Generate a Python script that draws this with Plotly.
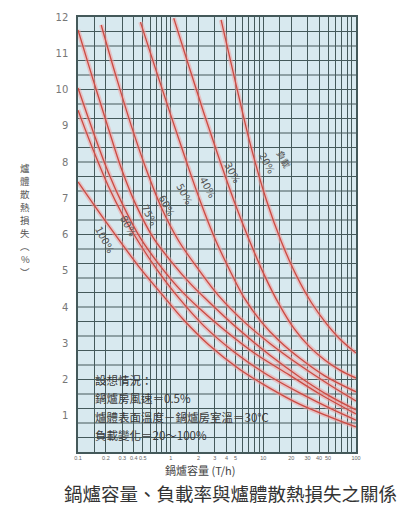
import math
import plotly.graph_objects as go

# ---- data (capacity T/h, heat loss %) ----
load_labels = ["100%", "80%", "75%", "60%", "50%", "40%", "30%", "20%"]

cap_100 = [0.1, 0.165, 0.272, 0.449, 0.798, 1.385, 2.59, 5.48, 11.6, 24.6, 52.1, 100]
loss_100 = [7.45, 6.65, 5.88, 5.13, 4.36, 3.64, 2.95, 2.29, 1.77, 1.32, 0.97, 0.69]

cap_80 = [0.1, 0.146, 0.212, 0.308, 0.472, 0.741, 1.222, 2.28, 4.84, 10.25, 24.6, 52.1, 100]
loss_80 = [9.43, 8.33, 7.34, 6.51, 5.71, 4.97, 4.25, 3.48, 2.76, 2.18, 1.63, 1.21, 0.88]

cap_75 = [0.1, 0.146, 0.212, 0.308, 0.472, 0.741, 1.222, 2.02, 3.77, 7.98, 19.2, 40.6, 100]
loss_75 = [10.04, 8.83, 7.72, 6.79, 5.90, 5.19, 4.52, 3.97, 3.37, 2.73, 2.12, 1.60, 1.05]

cap_60 = [0.1, 0.146, 0.212, 0.293, 0.427, 0.653, 1.025, 1.65, 2.59, 5.48, 11.6, 24.6, 52.1, 100]
loss_60 = [11.64, 10.26, 8.94, 7.83, 6.79, 5.90, 5.24, 4.63, 4.14, 3.37, 2.68, 2.07, 1.54, 1.16]

cap_50 = [0.178, 0.259, 0.377, 0.548, 0.798, 1.222, 2.02, 3.32, 6.22, 11.6, 24.6, 52.1, 100]
loss_50 = [11.78, 10.34, 8.99, 7.78, 6.73, 5.82, 5.02, 4.30, 3.59, 3.01, 2.40, 1.85, 1.41]

cap_40 = [0.472, 0.687, 1.0, 1.456, 2.12, 3.08, 4.49, 6.22, 9.51, 14.9, 24.6, 46.0, 100]
loss_40 = [11.86, 10.57, 9.30, 8.06, 6.87, 5.82, 4.94, 4.25, 3.59, 3.06, 2.59, 2.10, 1.66]

cap_30 = [1.08, 1.57, 2.28, 3.32, 4.84, 7.04, 10.25, 14.9, 21.7, 31.6, 46.0, 67.0, 100]
loss_30 = [11.97, 10.65, 9.35, 8.11, 6.92, 5.85, 4.88, 4.06, 3.39, 2.90, 2.54, 2.26, 2.04]

cap_20 = [3.5, 5.09, 7.41, 10.78, 15.7, 22.8, 33.2, 48.4, 68.7, 100]
loss_20 = [11.92, 10.12, 8.39, 6.95, 5.79, 4.86, 4.11, 3.53, 3.09, 2.73]

x_tickvals = [0.1, 0.2, 0.3, 0.4, 0.5, 1, 2, 3, 4, 5, 10, 20, 30, 40, 50, 100]
x_ticktext = ["0.1", "0.2", "0.3", "0.4", "0.5", "1", "2", "3", "4", "5",
              "10", "20", "30", "40", "50", "100"]
x_minor_vals = [0.15, 0.6, 0.7, 0.8, 0.9, 1.5, 6, 7, 8, 9, 15, 60, 70, 80, 90]
y_tickvals = list(range(1, 13))

y_title_chars = ["爐", "體", "散", "熱", "損", "失", "︵", "%", "︶"]

notes = ["設想情況：",
         "鍋爐房風速＝0.5%",
         "爐體表面溫度－鍋爐房室溫＝30℃",
         "負載變化＝20～100%"]

series = [(cap_100, loss_100), (cap_80, loss_80), (cap_75, loss_75),
          (cap_60, loss_60), (cap_50, loss_50), (cap_40, loss_40),
          (cap_30, loss_30), (cap_20, loss_20)]

# label anchor positions (layout)
label_pos = [(0.192, 5.85), (0.35, 6.23), (0.577, 6.54), (0.905, 6.81),
             (1.38, 7.12), (2.52, 7.31), (4.6, 7.70), (11.0, 7.97)]

CJK = "Noto Sans CJK TC"
GRID = "#44595a"
RED = "#cc4a42"
PLOT_BOTTOM = 452.0
PLOT_H = 435.0

fig = go.Figure()

for (xs, ys), name in zip(series, load_labels):
    fig.add_trace(go.Scatter(x=xs, y=ys, mode="lines", showlegend=False,
                             hoverinfo="skip",
                             line=dict(color="rgba(240,160,160,0.55)", width=4.5,
                                       shape="spline", smoothing=1.0)))
    fig.add_trace(go.Scatter(x=xs, y=ys, mode="lines", name=name, showlegend=False,
                             line=dict(color=RED, width=1.3,
                                       shape="spline", smoothing=1.0)))

# horizontal grid every 0.4
shapes = []
for k in range(1, 30):
    shapes.append(dict(type="line", xref="paper", x0=0, x1=1, yref="y",
                       y0=k * 0.4, y1=k * 0.4, layer="below",
                       line=dict(color=GRID, width=1.1)))

annotations = []
for (lx, ly), name in zip(label_pos, load_labels):
    annotations.append(dict(x=math.log10(lx), y=ly, xref="x", yref="y",
                            text=name, showarrow=False, textangle=62,
                            xanchor="center", yanchor="middle",
                            font=dict(family="DejaVu Sans", size=10, color="#555")))
annotations.append(dict(x=math.log10(16.5), y=8.06, xref="x", yref="y",
                        text="負載", showarrow=False, textangle=62,
                        xanchor="center", yanchor="middle",
                        font=dict(family=CJK, size=9, color="#555")))

note_y = [0.1655, 0.124, 0.080, 0.039]
for t, yy in zip(notes, note_y):
    annotations.append(dict(x=0.054, y=yy, xref="paper", yref="paper",
                            xanchor="left", yanchor="middle", text=t,
                            showarrow=False,
                            font=dict(family=CJK, size=11.5, color="#3a3a3a")))

annotations.append(dict(x=0.439, y=(PLOT_BOTTOM - 470) / PLOT_H, xref="paper", yref="paper",
                        xanchor="center", yanchor="middle",
                        text="鍋爐容量 (T/h)", showarrow=False,
                        font=dict(family=CJK, size=11, color="#444")))
annotations.append(dict(x=0.55, y=(PLOT_BOTTOM - 493) / PLOT_H, xref="paper", yref="paper",
                        xanchor="center", yanchor="middle",
                        text="鍋爐容量、負載率與爐體散熱損失之關係", showarrow=False,
                        font=dict(family=CJK, size=18.5, color="#333")))
# vertical (stacked) y-axis title
for i, ch in enumerate(y_title_chars):
    py = 168 + 13 * i          # pixel row of each character
    annotations.append(dict(x=-0.19, y=(PLOT_BOTTOM - py) / PLOT_H,
                            xref="paper", yref="paper",
                            xanchor="center", yanchor="middle",
                            text=ch, showarrow=False,
                            font=dict(family=CJK, size=9.5, color="#555")))

fig.update_layout(
    width=411, height=505,
    margin=dict(l=78, r=55, t=17, b=53),
    paper_bgcolor="white",
    plot_bgcolor="#d8e9ef",
    shapes=shapes,
    annotations=annotations,
    xaxis=dict(type="log", range=[-1, 2], tickmode="array",
               tickvals=x_tickvals, ticktext=x_ticktext, tickangle=0,
               showgrid=True, gridcolor=GRID, gridwidth=1.1,
               ticks="", tickfont=dict(family="Liberation Sans", size=5.5, color="#666"),
               showline=True, linecolor=GRID, linewidth=1.5, mirror=True,
               zeroline=False, automargin=False,
               minor=dict(tickvals=x_minor_vals, showgrid=True,
                          gridcolor=GRID, gridwidth=1.0, ticks="")),
    yaxis=dict(range=[0, 12], tickmode="array", tickvals=y_tickvals,
               showgrid=False, zeroline=False, ticks="",
               ticklabelstandoff=6, automargin=False,
               tickfont=dict(family="DejaVu Sans", size=10, color="#777"),
               showline=True, linecolor=GRID, linewidth=1.5, mirror=True),
)

fig.write_html("out.html", config={"displayModeBar": False},
               post_script="document.body.style.margin='0';")
